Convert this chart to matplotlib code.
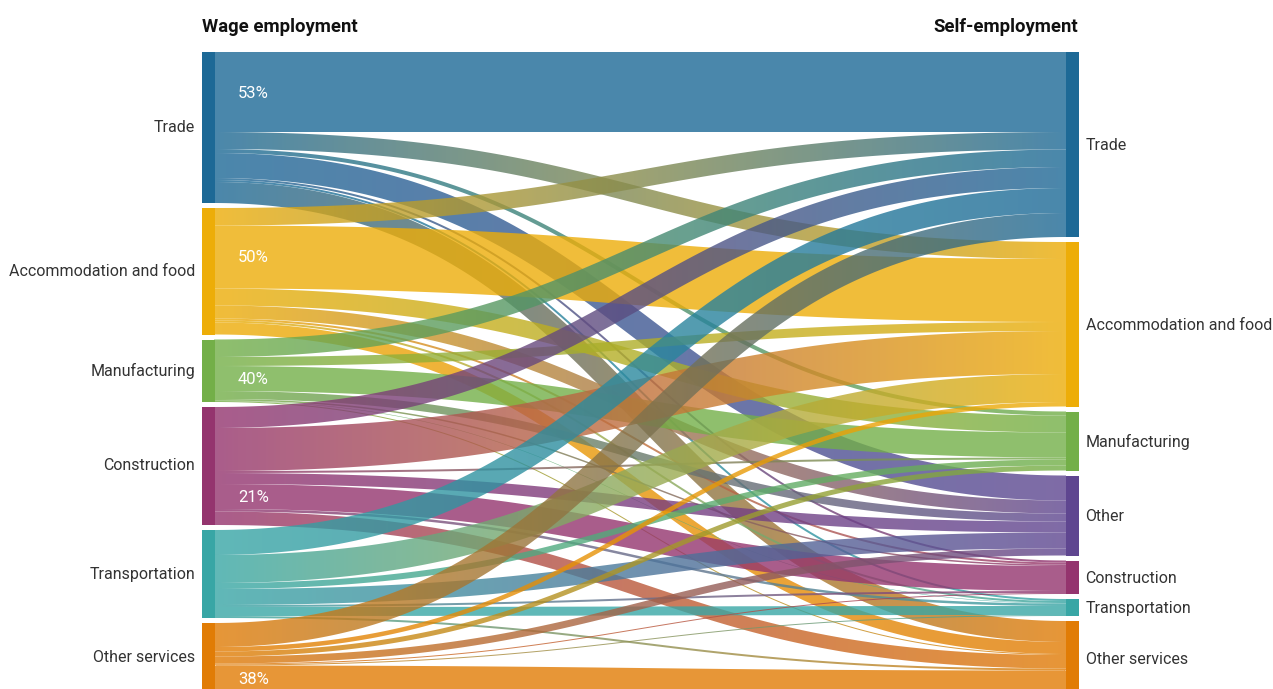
import numpy as np
from matplotlib import pyplot as plt
from matplotlib.patches import Rectangle
from matplotlib.collections import PolyCollection
from matplotlib.colors import to_rgb

plt.rcParams["font.family"] = ["Roboto", "DejaVu Sans"]

# sectors on each side
src_names = ["Trade", "Accommodation and food", "Manufacturing", "Construction",
             "Transportation", "Other services"]
dst_names = ["Trade", "Accommodation and food", "Manufacturing", "Other", "Construction",
             "Transportation", "Other services"]

colors = {"Trade": "#1D6996", "Accommodation and food": "#EDAD08", "Manufacturing": "#73AF48",
          "Construction": "#94346E", "Transportation": "#38A6A5", "Other services": "#E17C05",
          "Other": "#5F4690"}

# flows, rows = wage employment sector, cols = self-employment sector
flow_trade = [80, 17, 4, 25, 2, 2, 21]
flow_accom = [17.5, 63, 17, 13, 2, 2, 12]
flow_manuf = [17.5, 9, 25, 8, 1.5, 0.5, 1]
flow_const = [21, 43, 2, 11, 25, 2.5, 13.5]
flow_trans = [25, 28, 6, 16, 2, 9, 2]
flow_other = [24, 4.5, 5, 7, 1, 1, 26]

flows = np.array([flow_trade, flow_accom, flow_manuf, flow_const, flow_trans, flow_other])

# layout (pixels)
W, H = 1273, 689
top = 52.0
gap = 5.0
ky = 1.0
node_w = 12.5
xl0, xr0 = 202, 1066

fig = plt.figure(figsize=(W/100, H/100), dpi=100)
ax = fig.add_axes([0, 0, 1, 1])

def stack(vals):
    y0 = []
    y = top
    for v in vals:
        y0.append(y)
        y += v*ky + gap
    return np.array(y0)

src_tot = flows.sum(axis=1)
dst_tot = flows.sum(axis=0)
src_y0 = stack(src_tot)
dst_y0 = stack(dst_tot)

# link offsets inside nodes
src_off = src_y0[:, None] + np.cumsum(np.hstack([np.zeros((flows.shape[0], 1)), flows[:, :-1]]), axis=1)*ky
dst_off = dst_y0[None, :] + np.cumsum(np.vstack([np.zeros((1, flows.shape[1])), flows[:-1, :]]), axis=0)*ky

xs = 214
xt = xr0
xm = (xs + xt)/2
t = np.linspace(0, 1, 400)[:, None]

# 2px vertical strips on the pixel grid carry the colour gradient
edges = np.arange(xs, xt + 1, 2).astype(float)
mid = (edges[:-1] + edges[1:])/2
frac = ((mid - xs)/(xt - xs))[:, None]

for i in range(flows.shape[0]):
    for j in range(flows.shape[1]):
        w = flows[i, j]*ky
        if w <= 0:
            continue
        ys = src_off[i, j] + w/2
        yt = dst_off[i, j] + w/2
        p0, p1, p2, p3 = np.array([xs, ys]), np.array([xm, ys]), np.array([xm, yt]), np.array([xt, yt])
        pts = (1-t)**3*p0 + 3*(1-t)**2*t*p1 + 3*(1-t)*t**2*p2 + t**3*p3
        d = 3*(1-t)**2*(p1-p0) + 6*(1-t)*t*(p2-p1) + 3*t**2*(p3-p2)
        n = np.column_stack([-d[:, 1], d[:, 0]])
        n /= np.linalg.norm(n, axis=1)[:, None]
        upper = pts + n*w/2
        lower = pts - n*w/2
        yu = np.interp(edges, upper[:, 0], upper[:, 1])
        yl = np.interp(edges, lower[:, 0], lower[:, 1])
        strips = np.stack([np.column_stack([edges[:-1], yu[:-1]]),
                           np.column_stack([edges[1:], yu[1:]]),
                           np.column_stack([edges[1:], yl[1:]]),
                           np.column_stack([edges[:-1], yl[:-1]])], axis=1)
        c0 = np.array(to_rgb(colors[src_names[i]]))
        c1 = np.array(to_rgb(colors[dst_names[j]]))
        rgb = (1-frac)*c0 + frac*c1
        fc = np.hstack([rgb, np.full((len(rgb), 1), 0.8)])
        pc = PolyCollection(strips, facecolors=fc, edgecolors="none", linewidths=0,
                            antialiased=True, zorder=2)
        ax.add_collection(pc)

# nodes and labels
for i, name in enumerate(src_names):
    h = src_tot[i]*ky
    ax.add_patch(Rectangle((xl0, src_y0[i]), node_w, h, color=colors[name], lw=0, zorder=3))
    ax.text(xl0 - 7, src_y0[i] + h/2, name, ha="right", va="center", fontsize=11.5, color="#333333")
    if name in dst_names:
        j = dst_names.index(name)
        share = flows[i, j]/src_tot[i]
        if share >= 0.2:
            ax.text(xl0 + 36, src_off[i, j] + flows[i, j]*ky/2 + 1, "%d%%" % round(share*100),
                    ha="left", va="center", fontsize=12, color="white", zorder=4)

for j, name in enumerate(dst_names):
    h = dst_tot[j]*ky
    ax.add_patch(Rectangle((xr0, dst_y0[j]), node_w, h, color=colors[name], lw=0, zorder=3))
    ax.text(xr0 + node_w + 7, dst_y0[j] + h/2 + 1, name, ha="left", va="center", fontsize=11.5, color="#333333")

ax.text(xl0, 27, "Wage employment", ha="left", va="center", fontsize=13.3, fontweight="bold", color="#111111")
ax.text(xr0 + node_w, 27, "Self-employment", ha="right", va="center", fontsize=13.3, fontweight="bold", color="#111111")

ax.set_xlim(0, W)
ax.set_ylim(H, 0)
ax.axis("off")

plt.savefig("out.png", dpi=100)
